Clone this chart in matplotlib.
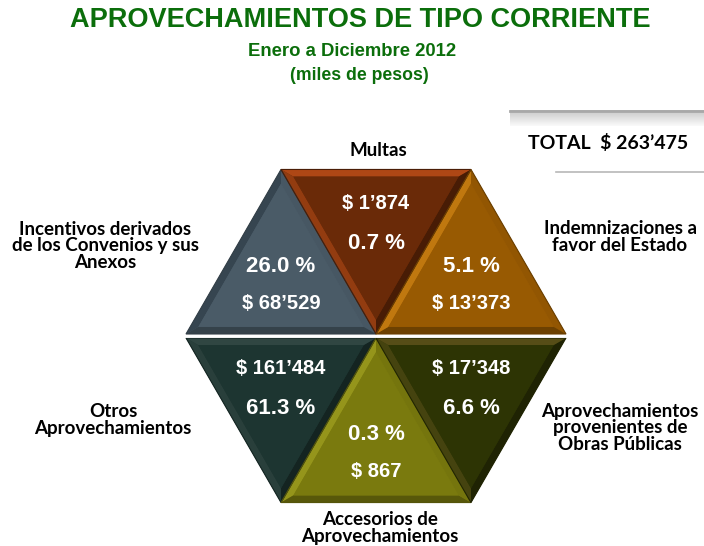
import numpy as np
import matplotlib
matplotlib.use('Agg')
import matplotlib.pyplot as plt
from matplotlib.patches import Polygon
from matplotlib.colors import to_rgb

# data
categorias = ['Incentivos derivados\nde los Convenios y sus\nAnexos', 'Multas',
              'Indemnizaciones a\nfavor del Estado', 'Otros\nAprovechamientos',
              'Accesorios de\nAprovechamientos',
              'Aprovechamientos\nprovenientes de\nObras Públicas']
montos = ["$ 68\u2019529", "$ 1\u2019874", "$ 13\u2019373",
          "$ 161\u2019484", "$ 867", "$ 17\u2019348"]
porcentajes = ["26.0 %", "0.7 %", "5.1 %", "61.3 %", "0.3 %", "6.6 %"]
total = "TOTAL  $ 263\u2019475"
colores = ['#4a5b67', '#6a2a08', '#985a02', '#1d3531', '#7a7a0e', '#2d3404']
bordes = ['#2e3d47', '#d0561c', '#d08414', '#3a4f4a', '#a0a020', '#6a5a20']

W, H = 704, 546
fig = plt.figure(figsize=(W / 100., H / 100.), dpi=100)
ax = fig.add_axes([0, 0, 1, 1])
ax.set_xlim(0, W)
ax.set_ylim(H, 0)
ax.axis('off')

green = '#0b6e0b'
ax.text(360, 20, 'APROVECHAMIENTOS DE TIPO CORRIENTE', ha='center', va='center',
        fontsize=19.5, fontweight='bold', color=green, family='Liberation Sans')
ax.text(352, 51, 'Enero a Diciembre 2012', ha='center', va='center',
        fontsize=13.3, fontweight='bold', color=green, family='Liberation Sans')
ax.text(359, 75, '(miles de pesos)', ha='center', va='center',
        fontsize=12.7, fontweight='bold', color=green, family='Liberation Sans')

# total box
bar = np.linspace(0.78, 0.98, 100).reshape(-1, 1)
ax.imshow(np.tile(bar, (1, 10)), cmap='gray', vmin=0, vmax=1, aspect='auto',
          extent=(510, 704, 126, 110), zorder=1)
ax.plot([510, 704], [111, 111], color='#a8a8a8', lw=2, zorder=2)
ax.plot([556, 704], [172, 172], color='#b8b8b8', lw=1.2)
ax.text(608, 143, total, ha='center', va='center', fontsize=14,
        fontweight='bold', family='Lato', color='black')

# hexagon geometry
cx, cy, R = 376, 334, 190
h = R * np.sin(np.pi / 3)
L = (cx - R, cy); Rt = (cx + R, cy); C = (cx, cy)
TL = (cx - R / 2, cy - h); TR = (cx + R / 2, cy - h)
off = 4
Lb = (cx - R, cy + off); Rb = (cx + R, cy + off); Cb = (cx, cy + off)
BL = (cx - R / 2, cy + h + off); BR = (cx + R / 2, cy + h + off)
triangulos = [(L, TL, C), (TL, TR, C), (TR, Rt, C),
              (Lb, BL, Cb), (Cb, BL, BR), (Cb, BR, Rb)]


def mezcla(c, otro, t):
    c = np.array(to_rgb(c)); o = np.array(to_rgb(otro))
    return tuple(c * (1 - t) + o * t)


def bevel(pts, color, borde):
    pts = np.array(pts, dtype=float)
    cen = pts.mean(axis=0)
    inner = cen + (pts - cen) * 0.87
    ax.add_patch(Polygon(pts, closed=True, fc=color, ec='none', zorder=3))
    for i in range(3):
        j = (i + 1) % 3
        quad = [pts[i], pts[j], inner[j], inner[i]]
        mid = (pts[i] + pts[j]) / 2 - cen
        # light from top-left
        t = -(mid[0] * 0.6 + mid[1] * 0.8) / np.hypot(*mid)
        if t > 0:
            fc = mezcla(color, borde, 0.35 + 0.4 * t)
        else:
            fc = mezcla(color, 'black', 0.35 * -t)
        ax.add_patch(Polygon(quad, closed=True, fc=fc, ec='none', zorder=3))
    ax.add_patch(Polygon(inner, closed=True, fc=color, ec='none', zorder=4))
    ax.add_patch(Polygon(pts, closed=True, fc='none', ec=mezcla(color, 'black', 0.3),
                         lw=0.8, zorder=5))
    return cen


centros = []
for k in range(6):
    centros.append(bevel(triangulos[k], colores[k], bordes[k]))

ax.plot([cx - R, cx + R], [cy + off / 2, cy + off / 2], color='white', lw=2, zorder=6)

# texts inside: upright triangles percent first, inverted ones amount first
hacia_arriba = [True, False, True, False, True, False]
for k in range(6):
    x, y = centros[k]
    if hacia_arriba[k]:
        y1, y2 = y - 13, y + 24
        t1, t2, f1, f2 = porcentajes[k], montos[k], 16, 14.5
    else:
        d = -3 if k == 1 else 0
        y1, y2 = y - 24 - d, y + 16 - d
        t1, t2, f1, f2 = montos[k], porcentajes[k], 14.5, 16
    ax.text(x, y1, t1, ha='center', va='center', fontsize=f1, fontweight='bold',
            color='white', family='Liberation Sans', zorder=7)
    ax.text(x, y2, t2, ha='center', va='center', fontsize=f2, fontweight='bold',
            color='white', family='Liberation Sans', zorder=7)

pos_etiquetas = [(105, 246), (378, 150), (620, 237), (113, 420), (380, 528), (620, 428)]
for k in range(6):
    ax.text(pos_etiquetas[k][0], pos_etiquetas[k][1], categorias[k], ha='center',
            va='center', fontsize=13.5, fontweight='bold', family='Lato',
            color='black', linespacing=0.95)

fig.savefig('out.png', dpi=100)
